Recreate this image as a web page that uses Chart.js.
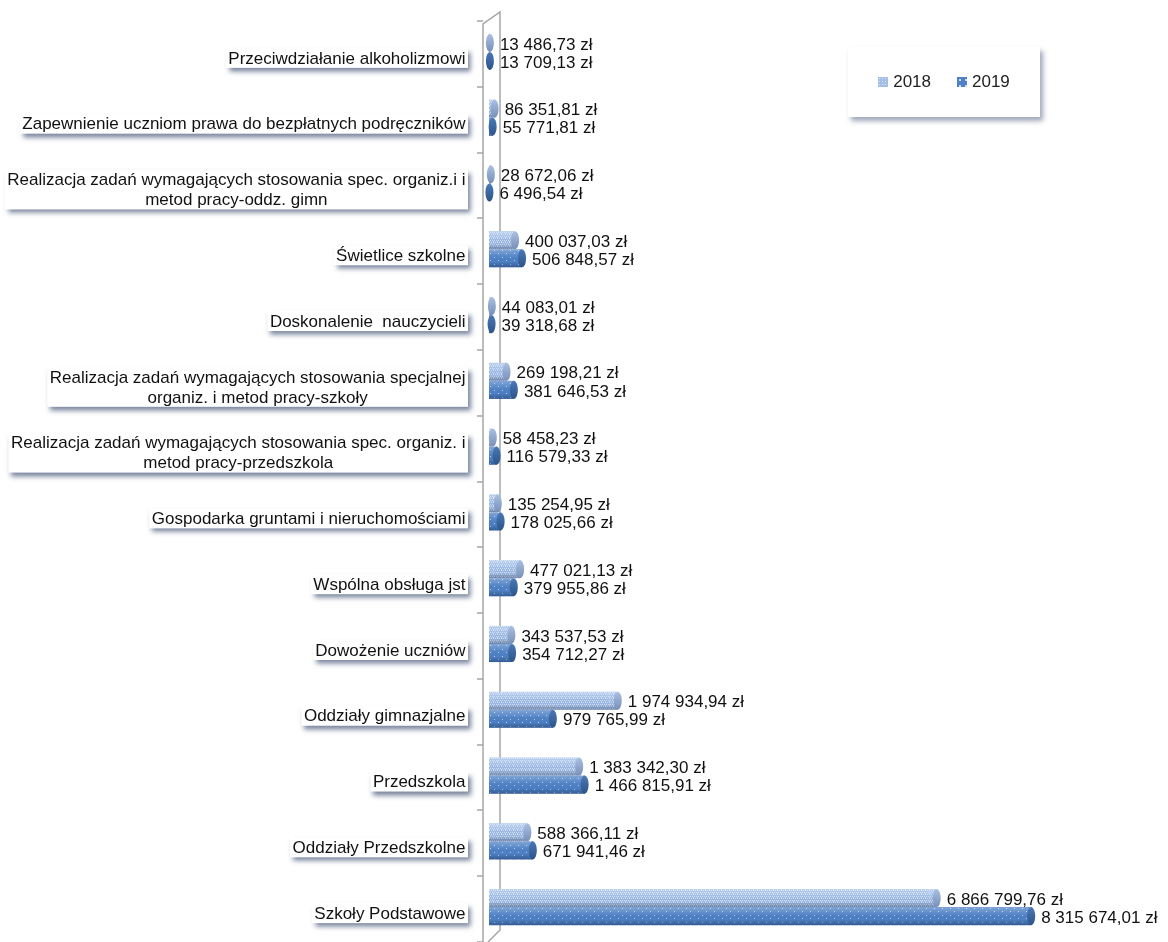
<!DOCTYPE html>
<html lang="pl">
<head>
<meta charset="UTF-8">
<title>Wydatki 2018 / 2019</title>
<script src="https://cdn.jsdelivr.net/npm/chart.js"></script>
<style>
    body { margin: 0; background: #fff; }
    #wrap { position: relative; width: 1168px; height: 942px; }
    #legend {
        position: absolute; left: 848px; top: 47px; width: 192px; height: 70px;
        background: #fff; box-shadow: 3px 4px 5px rgba(40, 60, 100, 0.45);
        font: 17px "Liberation Sans", sans-serif; color: #222;
        display: flex; align-items: center; justify-content: center; gap: 26px;
    }
    #legend span { display: inline-flex; align-items: center; gap: 5px; }
    #legend i { display: inline-block; width: 10px; height: 10px; }
    .sw18 { background: #a3bfe8; background-image: radial-gradient(#dde8f8 30%, transparent 35%); background-size: 3px 3px; }
    .sw19 { background: #4f81c4; background-image: radial-gradient(#c9dbf5 25%, transparent 30%); background-size: 6px 6px; }
</style>
</head>
<body>
<div id="wrap">
    <canvas id="myChart" width="1168" height="942"></canvas>
    <div id="legend">
        <span><i class="sw18"></i>2018</span>
        <span><i class="sw19"></i>2019</span>
    </div>
</div>

<script>
    // kategorie (od góry do dołu), linie podzielone jak na oryginale
    const categories = [
        ["Przeciwdziałanie alkoholizmowi"],
        ["Zapewnienie uczniom prawa do bezpłatnych podręczników"],
        ["Realizacja zadań wymagających stosowania spec. organiz.i i", "metod pracy-oddz. gimn"],
        ["Świetlice szkolne"],
        ["Doskonalenie  nauczycieli"],
        ["Realizacja zadań wymagających stosowania specjalnej", "organiz. i metod pracy-szkoły"],
        ["Realizacja zadań wymagających stosowania spec. organiz. i", "metod pracy-przedszkola"],
        ["Gospodarka gruntami i nieruchomościami"],
        ["Wspólna obsługa jst"],
        ["Dowożenie uczniów"],
        ["Oddziały gimnazjalne"],
        ["Przedszkola"],
        ["Oddziały Przedszkolne"],
        ["Szkoły Podstawowe"]
    ];
    const values2018 = [13486.73, 86351.81, 28672.06, 400037.03, 44083.01, 269198.21, 58458.23,
        135254.95, 477021.13, 343537.53, 1974934.94, 1383342.30, 588366.11, 6866799.76];
    const values2019 = [13709.13, 55771.81, 6496.54, 506848.57, 39318.68, 381646.53, 116579.33,
        178025.66, 379955.86, 354712.27, 979765.99, 1466815.91, 671941.46, 8315674.01];
    const seriesNames = ["2018", "2019"];

    const FONT = '"Liberation Sans", sans-serif';

    // "1 974 934,94 zł"
    const fmt = (v) => {
        const [i, d] = v.toFixed(2).split('.');
        return i.replace(/\B(?=(\d{3})+(?!\d))/g, ' ') + ',' + d + ' zł';
    };

    const makePattern = (w, h, base, dot, dots) => {
        const c = document.createElement('canvas');
        c.width = w; c.height = h;
        const g = c.getContext('2d');
        g.fillStyle = base;
        g.fillRect(0, 0, w, h);
        g.fillStyle = dot;
        dots.forEach(([x, y]) => g.fillRect(x, y, 1, 1));
        return g.createPattern(c, 'repeat');
    };
    const ctx = document.getElementById('myChart').getContext('2d');
    const pat18 = makePattern(4, 4, '#9dbae6', '#cfdef5', [[0, 0], [2, 0], [1, 2], [3, 2], [1, 1]]);
    const pat19 = makePattern(8, 7, '#4d80c5', '#b6cdf0', [[2, 1], [6, 5]]);

    // ściana osi (efekt 3D) + kreski podziału kategorii
    const wallPlugin = {
        id: 'wall',
        beforeDatasetsDraw(chart) {
            const { ctx, chartArea: a, scales: { y } } = chart;
            const l = a.left - 6, r = a.left + 11;
            ctx.save();
            ctx.strokeStyle = '#a6a6a6';
            ctx.lineWidth = 1.5;
            ctx.beginPath();
            ctx.moveTo(l, 942); ctx.lineTo(l, 24); ctx.lineTo(r, 12);
            ctx.lineTo(r, 930); ctx.lineTo(a.left - 1, 942);
            ctx.stroke();
            for (let i = 0; i <= categories.length; i++) {
                const py = Math.round(y.getPixelForValue(i - 0.5)) + 2;
                ctx.beginPath();
                ctx.moveTo(l - 6, py); ctx.lineTo(l, py);
                ctx.stroke();
            }
            ctx.restore();
        }
    };

    // cieniowanie walców, kapsle i etykiety wartości
    const barPlugin = {
        id: 'barDeco',
        afterDatasetsDraw(chart) {
            const { ctx } = chart;
            const caps = [['#aac0e3', '#7890b8'], ['#4a79b8', '#2c5488']];
            chart.data.datasets.forEach((ds, di) => {
                chart.getDatasetMeta(di).data.forEach((el, i) => {
                    const { x, y, base, height } = el.getProps(['x', 'y', 'base', 'height'], true);
                    const top = y - height / 2, bot = y + height / 2;
                    ctx.save();
                    const g = ctx.createLinearGradient(0, top, 0, bot);
                    g.addColorStop(0, 'rgba(255,255,255,0.3)');
                    g.addColorStop(0.35, 'rgba(255,255,255,0.08)');
                    g.addColorStop(0.7, 'rgba(0,0,0,0)');
                    g.addColorStop(1, 'rgba(10,30,70,0.35)');
                    ctx.fillStyle = g;
                    ctx.fillRect(base, top, x - base, height);
                    const cg = ctx.createLinearGradient(0, top, 0, bot);
                    cg.addColorStop(0, caps[di][0]);
                    cg.addColorStop(1, caps[di][1]);
                    ctx.fillStyle = cg;
                    ctx.beginPath();
                    ctx.ellipse(x, y, 4, height / 2, 0, 0, Math.PI * 2);
                    ctx.fill();
                    ctx.fillStyle = '#111';
                    ctx.font = '17px ' + FONT;
                    ctx.textBaseline = 'middle';
                    ctx.textAlign = 'left';
                    ctx.fillText(fmt(ds.data[i]), x + 10, y + 2);
                    ctx.restore();
                });
            });
        }
    };

    // etykiety kategorii w białych ramkach z cieniem
    const labelPlugin = {
        id: 'catLabels',
        afterDraw(chart) {
            const { ctx, scales: { y } } = chart;
            const right = 466, lh = 20;
            ctx.save();
            ctx.font = '17px ' + FONT;
            categories.forEach((lines, i) => {
                const cy = y.getPixelForValue(i) + 6;
                const w = Math.max(...lines.map(s => ctx.measureText(s).width));
                const h = lines.length * lh;
                const bx = right - w - 3, by = cy - h / 2;
                ctx.save();
                ctx.shadowColor = 'rgba(30,50,90,0.6)';
                ctx.shadowBlur = 5;
                ctx.shadowOffsetX = 3;
                ctx.shadowOffsetY = 4;
                ctx.fillStyle = '#fff';
                ctx.fillRect(bx, by, w + 5, h);
                ctx.restore();
                ctx.fillStyle = '#111';
                ctx.textAlign = 'center';
                ctx.textBaseline = 'middle';
                lines.forEach((s, k) => {
                    ctx.fillText(s, bx + (w + 5) / 2, by + lh * k + lh / 2 + 1);
                });
            });
            ctx.restore();
        }
    };

    const myChart = new Chart(ctx, {
        type: 'bar',
        data: {
            labels: categories,
            datasets: [
                { label: seriesNames[0], data: values2018, backgroundColor: pat18, borderWidth: 0 },
                { label: seriesNames[1], data: values2019, backgroundColor: pat19, borderWidth: 0 }
            ]
        },
        options: {
            indexAxis: 'y',
            responsive: false,
            animation: false,
            layout: { padding: { left: 489, right: 27, top: 19, bottom: 2 } },
            datasets: { bar: { categoryPercentage: 0.55, barPercentage: 1 } },
            scales: {
                x: { display: false, min: 0, max: 10000000 },
                y: { display: false }
            },
            plugins: {
                legend: { display: false },
                tooltip: { enabled: false }
            }
        },
        plugins: [wallPlugin, barPlugin, labelPlugin]
    });
</script>
</body>
</html>
